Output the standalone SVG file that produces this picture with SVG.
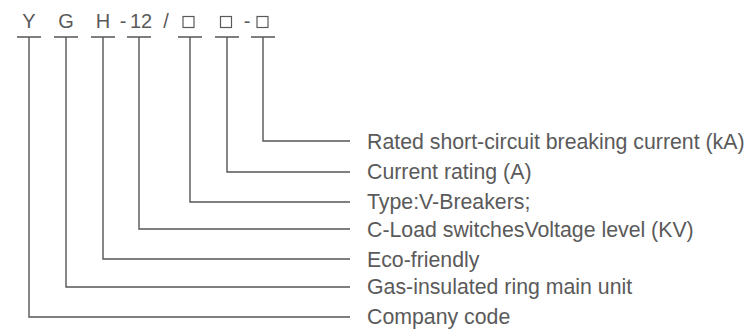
<svg xmlns="http://www.w3.org/2000/svg" width="749" height="330" viewBox="0 0 749 330">
<style>
.code{font-family:"Liberation Sans",Arial,sans-serif;font-size:20px;fill:#5a5a5a;text-anchor:middle}
.lbl{font-family:"Liberation Sans",Arial,sans-serif;font-size:21.3px;fill:#5a5a5a}
.ln{stroke:#555;stroke-width:1.4;fill:none}
.box{fill:none;stroke:#5a5a5a;stroke-width:1.2}
</style>
<rect width="749" height="330" fill="#fff"/>
<g id="code">
<text class="code" x="29" y="28">Y</text>
<text class="code" x="66" y="28">G</text>
<text class="code" x="103" y="28">H</text>
<text class="code" x="123" y="28">-</text>
<text class="code" x="141" y="28">12</text>
<text class="code" x="166" y="28">/</text>
<rect class="box" x="183" y="16.5" width="11" height="11"/>
<rect class="box" x="220.5" y="16.5" width="11" height="11"/>
<text class="code" x="247" y="28">-</text>
<rect class="box" x="257" y="16.5" width="11" height="11"/>
</g>
<g id="connectors">
<path class="ln" d="M17 37H41M29 37V317H350"/>
<path class="ln" d="M54 37H78M66 37V287H350"/>
<path class="ln" d="M91 37H115M103 37V259H350"/>
<path class="ln" d="M127 37H151M139 37V229H350"/>
<path class="ln" d="M178 37H202M190 37V202H350"/>
<path class="ln" d="M215 37H239M227 37V172H350"/>
<path class="ln" d="M251 37H275M263 37V141H350"/>
</g>
<g id="labels">
<text class="lbl" x="367" y="148.5">Rated short-circuit breaking current (kA)</text>
<text class="lbl" x="367" y="179">Current rating (A)</text>
<text class="lbl" x="367" y="209">Type:V-Breakers;</text>
<text class="lbl" x="367" y="236.5">C-Load switchesVoltage level (KV)</text>
<text class="lbl" x="367" y="266.5">Eco-friendly</text>
<text class="lbl" x="367" y="294">Gas-insulated ring main unit</text>
<text class="lbl" x="367" y="323.5">Company code</text>
</g>
</svg>
